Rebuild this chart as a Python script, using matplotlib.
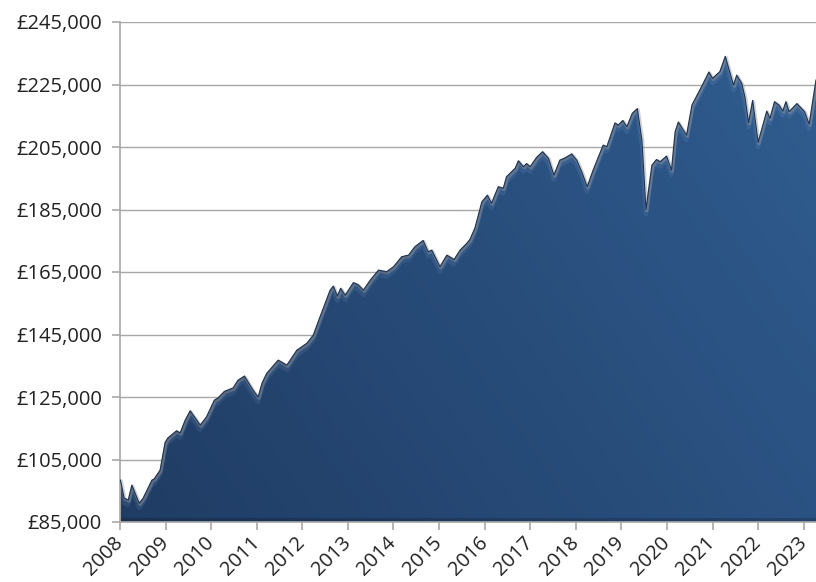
import numpy as np
import matplotlib.pyplot as plt
from matplotlib import patheffects as pe
from matplotlib.transforms import offset_copy
from matplotlib.ticker import FuncFormatter

# portfolio value (x in decimal years)
years = [2008.01, 2008.09, 2008.18, 2008.26, 2008.33, 2008.42, 2008.51, 2008.70, 2008.75, 2008.88,
         2008.99, 2009.05, 2009.24, 2009.32, 2009.43, 2009.54, 2009.76, 2009.90, 2010.07, 2010.15,
         2010.29, 2010.48, 2010.59, 2010.73, 2010.92, 2011.03, 2011.12, 2011.22, 2011.47, 2011.66,
         2011.88, 2012.10, 2012.24, 2012.39, 2012.61, 2012.68, 2012.77, 2012.84, 2012.94, 2013.12,
         2013.22, 2013.34, 2013.49, 2013.67, 2013.85, 2014.00, 2014.18, 2014.33, 2014.47, 2014.65,
         2014.76, 2014.84, 2015.02, 2015.17, 2015.33, 2015.46, 2015.61, 2015.68, 2015.79, 2015.94,
         2016.06, 2016.15, 2016.30, 2016.41, 2016.48, 2016.67, 2016.74, 2016.85, 2016.92, 2017.00,
         2017.14, 2017.27, 2017.40, 2017.52, 2017.65, 2017.76, 2017.91, 2018.02, 2018.13, 2018.25,
         2018.38, 2018.60, 2018.68, 2018.86, 2018.93, 2019.03, 2019.12, 2019.24, 2019.35, 2019.45,
         2019.54, 2019.67, 2019.77, 2019.85, 2019.99, 2020.10, 2020.18, 2020.25, 2020.43, 2020.55,
         2020.72, 2020.92, 2021.00, 2021.16, 2021.28, 2021.46, 2021.53, 2021.64, 2021.71, 2021.79,
         2021.88, 2022.00, 2022.19, 2022.26, 2022.36, 2022.46, 2022.54, 2022.61, 2022.68, 2022.85,
         2023.02, 2023.12, 2023.27]
values = [98400, 92700, 92000, 96800, 94300, 91000, 92700, 98400, 98800, 101600,
          110500, 111900, 114200, 113500, 117600, 120600, 116000, 118700, 124000, 124700,
          126800, 127900, 130400, 131700, 127200, 125000, 129600, 132600, 136800, 135200,
          140000, 142200, 144800, 150700, 159200, 160500, 157300, 159800, 157600, 161600,
          161000, 159200, 162400, 165600, 165100, 166700, 169900, 170400, 173100, 175100,
          171500, 172000, 166700, 170400, 169000, 172000, 174200, 175500, 179200, 187500,
          189600, 187000, 192300, 191800, 195500, 198200, 200600, 198700, 199700, 198700,
          201700, 203500, 201400, 196000, 200800, 201500, 202800, 200800, 197100, 192300,
          197600, 205600, 205100, 212700, 212000, 213500, 211500, 215800, 217300, 207200,
          185000, 199200, 201000, 200300, 202100, 197600, 209900, 213000, 208800, 218500,
          223200, 229000, 227000, 229100, 234000, 224800, 228000, 225400, 221000, 212800,
          219900, 206500, 216500, 214200, 219500, 218400, 216500, 219500, 216300, 218900,
          216300, 212300, 226400]

y_ticks = list(range(85000, 245001, 20000))
x_ticks = list(range(2008, 2024))

plt.rcParams['font.family'] = ['Open Sans', 'DejaVu Sans']

fig = plt.figure(figsize=(8.16, 5.82), dpi=100)
ax = fig.add_axes([120 / 816, 60 / 582, 696 / 816, 500 / 582])
x0, x1 = years[0] - 0.01, years[-1]
y0, y1 = y_ticks[0], y_ticks[-1]
ax.set_xlim(x0, x1)
ax.set_ylim(y0, y1)

# area shape, used as clip path for the gradient
poly = ax.fill_between(years, values, y0, color='none', lw=0)
clip = poly.get_paths()[0]

# gradient fill: darker bottom-left, lighter towards the right
nx, ny = 400, 500
tx, ty = np.meshgrid(np.linspace(0, 1, nx), np.linspace(0, 1, ny))
dark = np.array([0.125, 0.235, 0.39])
light = np.array([0.185, 0.36, 0.56])
mix = np.clip(0.7 * tx + 0.35 * ty, 0, 1)[..., None]
img = dark + (light - dark) * mix
img[ty < 0.007] *= 0.82  # bevel at the base
im = ax.imshow(img, extent=[x0, x1, y0, y1], origin='lower', aspect='auto',
               interpolation='bilinear', zorder=2)
im.set_clip_path(clip, transform=ax.transData)

# soft highlight just under the top edge
hl = ax.plot(years, values, color='#8db4e2', lw=3, alpha=0.12, zorder=3,
             transform=offset_copy(ax.transData, fig, x=0, y=-5, units='dots'))[0]
hl.set_clip_path(clip, transform=ax.transData)

# dark rim with a grey shadow
ax.plot(years, values, color='#1d3352', lw=0.8, zorder=4,
        path_effects=[pe.SimpleLineShadow(offset=(0.6, -0.8), shadow_color='#9a9a9a',
                                          alpha=0.45, linewidth=2.4),
                      pe.Normal()])

ax.yaxis.grid(True, color='#a8a8a8', lw=1)
ax.set_axisbelow(True)
for s in ['top', 'right']:
    ax.spines[s].set_visible(False)
for s in ['left', 'bottom']:
    ax.spines[s].set_color('#a8a8a8')
    ax.spines[s].set_linewidth(1.2)

ax.set_yticks(y_ticks)
ax.yaxis.set_major_formatter(FuncFormatter(lambda v, p: '£{:,.0f}'.format(v)))
ax.set_xticks(x_ticks)
ax.set_xticklabels([str(y) for y in x_ticks], rotation=45, ha='right', va='center',
                   rotation_mode='anchor')
ax.tick_params(axis='both', length=6, color='#a8a8a8', labelsize=14.5,
               labelcolor='#222222', width=1.2)
ax.tick_params(axis='y', pad=7)
ax.tick_params(axis='x', pad=7)

fig.savefig('out.png', dpi=100)
